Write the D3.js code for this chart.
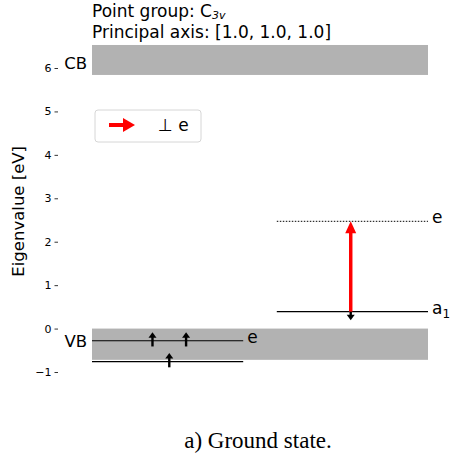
<!DOCTYPE html>
<html>
<head>
<meta charset="utf-8">
<script src="https://cdn.jsdelivr.net/npm/d3@7"></script>
<style>
  body { margin: 0; background: #fff; }
  text { font-family: "DejaVu Sans", sans-serif; }
</style>
</head>
<body>
<div id="chart"></div>
<script>
const yTicks = [-1, 0, 1, 2, 3, 4, 5, 6];
const bands = [
    { name: "CB", lo: 5.84, hi: 6.53, labelAt: 6.12 },
    { name: "VB", lo: -0.72, hi: 0.0, labelAt: -0.28 }
];
// levels: x range in arbitrary units, energy, occupied or empty, label + subscript
const levels = [
    { x0: 0, x1: 4.5, e: -0.28, occupied: true, label: "e", sub: "" },
    { x0: 0, x1: 4.5, e: -0.76, occupied: true, label: "", sub: "" },
    { x0: 5.5, x1: 10, e: 0.39, occupied: true, label: "a", sub: "1" },
    { x0: 5.5, x1: 10, e: 2.47, occupied: false, label: "e", sub: "" }
];
// electrons: position, level energy, spin direction (1 up, -1 down)
const spins = [
    { x: 1.8, e: -0.28, dir: 1 },
    { x: 2.8, e: -0.28, dir: 1 },
    { x: 2.3, e: -0.76, dir: 1 },
    { x: 7.7, e: 0.39, dir: -1 }
];
const transitions = [
    { x: 7.7, from: 0.39, to: 2.47, pol: "⊥ e" }
];

const width = 451, height = 460;
const svg = d3.select("#chart").append("svg")
    .attr("width", width).attr("height", height);

const x = d3.scaleLinear().domain([0, 10]).range([92, 428]);
const y = d3.scaleLinear().domain([-1, 6]).range([372, 68]);

// title
svg.append("text").attr("x", 92).attr("y", 17).attr("font-size", 17)
    .text("Point group: C")
    .append("tspan").attr("font-size", 11).attr("font-style", "italic").attr("dy", 2).text("3v");
svg.append("text").attr("x", 92).attr("y", 37.5).attr("font-size", 17)
    .text("Principal axis: [1.0, 1.0, 1.0]");

// y axis, no spine
const yAxis = svg.append("g").attr("transform", "translate(58,0)")
    .call(d3.axisLeft(y).tickValues(yTicks).tickSize(3.5).tickPadding(3)
        .tickFormat(d => d < 0 ? "\u2212" + Math.abs(d) : d));
yAxis.select(".domain").remove();
yAxis.selectAll("text").attr("font-size", 11).attr("font-family", "DejaVu Sans").attr("fill", "#000");
yAxis.selectAll("line").attr("stroke", "#000").attr("stroke-width", 0.8);

svg.append("text")
    .attr("transform", "translate(24," + y(2.7) + ") rotate(-90)")
    .attr("text-anchor", "middle").attr("font-size", 16.5)
    .text("Eigenvalue [eV]");

// bands
svg.selectAll("rect.band").data(bands).enter().append("rect")
    .attr("class", "band")
    .attr("x", x(0)).attr("width", x(10) - x(0))
    .attr("y", d => y(d.hi)).attr("height", d => y(d.lo) - y(d.hi))
    .attr("fill", "#b2b2b2");
svg.selectAll("text.bandlabel").data(bands).enter().append("text")
    .attr("class", "bandlabel")
    .attr("x", 87).attr("y", d => y(d.labelAt)).attr("dy", "0.35em")
    .attr("text-anchor", "end").attr("font-size", 16.5)
    .text(d => d.name);

// levels
svg.selectAll("line.level").data(levels).enter().append("line")
    .attr("x1", d => x(d.x0)).attr("x2", d => x(d.x1))
    .attr("y1", d => y(d.e)).attr("y2", d => y(d.e))
    .attr("stroke", "#000").attr("stroke-width", d => d.occupied ? 1.2 : 1)
    .attr("stroke-dasharray", d => d.occupied ? null : "1.5,1.5");
const lbl = svg.selectAll("text.lvl").data(levels.filter(d => d.label)).enter().append("text")
    .attr("x", d => x(d.x1) + 4).attr("y", d => y(d.e) + 2)
    .attr("font-size", 17)
    .text(d => d.label);
lbl.filter(d => d.sub).append("tspan").attr("font-size", 12).attr("dy", 4).text(d => d.sub);

// spin arrows
const spinLen = 0.33;
spins.forEach(s => {
    const yTail = y(s.e - s.dir * spinLen * 0.4);
    const yTip = y(s.e + s.dir * spinLen * 0.6);
    const xs = x(s.x);
    const sgn = yTip < yTail ? 1 : -1;
    svg.append("line").attr("x1", xs).attr("x2", xs)
        .attr("y1", yTail).attr("y2", yTip + sgn * 4)
        .attr("stroke", "#000").attr("stroke-width", 2.4);
    svg.append("path")
        .attr("d", `M${xs},${yTip} L${xs - 4},${yTip + sgn * 5.5} L${xs + 4},${yTip + sgn * 5.5} Z`)
        .attr("fill", "#000");
});

// transitions
transitions.forEach(t => {
    const xs = x(t.x);
    const y0 = y(t.from), y1 = y(t.to);
    svg.append("line").attr("x1", xs).attr("x2", xs)
        .attr("y1", y0).attr("y2", y1 + 10)
        .attr("stroke", "red").attr("stroke-width", 3.5);
    svg.append("path")
        .attr("d", `M${xs},${y1} L${xs - 5.5},${y1 + 12} L${xs + 5.5},${y1 + 12} Z`)
        .attr("fill", "red");
});

// legend
const lg = svg.append("g").attr("transform", "translate(95,110)");
lg.append("rect").attr("width", 106).attr("height", 32).attr("rx", 3)
    .attr("fill", "#fff").attr("stroke", "#d6d6d6").attr("stroke-width", 1);
lg.append("line").attr("x1", 14).attr("x2", 29).attr("y1", 15).attr("y2", 15)
    .attr("stroke", "red").attr("stroke-width", 4);
lg.append("path").attr("d", "M40,15 L28,8 L28,22 Z").attr("fill", "red");
lg.append("text").attr("x", 63).attr("y", 21).attr("font-size", 17)
    .text(transitions[0].pol);

// caption
svg.append("text").attr("x", 258).attr("y", 448)
    .attr("text-anchor", "middle").attr("font-size", 23)
    .style("font-family", "'Liberation Serif', serif")
    .text("a) Ground state.");
</script>
</body>
</html>
